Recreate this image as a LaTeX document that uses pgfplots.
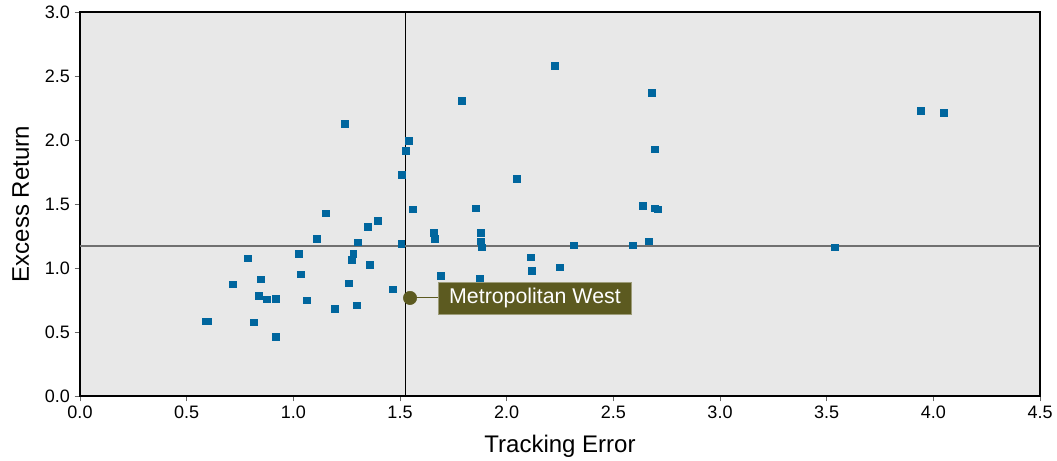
\documentclass[border=0pt]{standalone}
\usepackage{pgfplots}
\pgfplotsset{compat=1.18}
\usetikzlibrary{calc}
\usepackage{fontspec}
\setmainfont{Liberation Sans}
\definecolor{bg}{HTML}{E8E8E8}
\definecolor{pt}{HTML}{00669E}
\definecolor{olive}{HTML}{5C5A20}
\definecolor{meanh}{HTML}{707070}
\begin{document}
\begin{tikzpicture}[x=0.75pt,y=0.75pt]
\begin{axis}[
  name=ax,
  scale only axis,
  width=720pt, height=288pt,
  xmin=0, xmax=4.5, ymin=0, ymax=3.0,
  xtick={0,0.5,...,4.5}, ytick={0,0.5,...,3.0},
  /pgf/number format/.cd, fixed, fixed zerofill, precision=1, assume math mode=true,
  /pgfplots/.cd,
  tick label style={font=\fontsize{13.5}{16}\selectfont, text=black},
  label style={font=\fontsize{18}{21}\selectfont},
  xlabel={Tracking Error}, ylabel={Excess Return},
  xlabel style={yshift=-5.2pt},
  ylabel style={yshift=5pt},
  axis background/.style={fill=bg},
  axis line style={black, line width=0.8pt},
  tick style={color=gray!80!black, line width=0.6pt},
  tick align=outside, major tick length=4pt,
  xtick pos=bottom, ytick pos=left,
  clip=false,
]
\addplot[only marks, color=pt, mark=square*, mark size=2.6pt, mark options={fill=pt, draw=pt, line width=0pt}] coordinates {
(1.244,2.122) (1.542,1.989) (1.530,1.911) (1.508,1.723) (1.563,1.457)
(1.155,1.426) (1.399,1.364) (1.352,1.317) (1.661,1.270) (1.666,1.223)
(1.113,1.223) (1.305,1.199) (1.507,1.184) (0.789,1.074) (1.028,1.106)
(1.282,1.113) (1.277,1.064) (1.361,1.027) (1.694,0.941) (1.038,0.949)
(0.850,0.910) (0.719,0.871) (1.263,0.879) (1.469,0.832) (0.841,0.780)
(0.878,0.754) (0.920,0.761) (1.066,0.746) (1.197,0.683) (1.300,0.707)
(0.592,0.582) (0.602,0.582) (0.817,0.574) (0.920,0.464)
(2.228,2.575) (2.683,2.364) (1.792,2.302) (2.697,1.926) (2.050,1.692)
(1.858,1.465) (2.641,1.488) (2.697,1.465) (2.711,1.457)
(1.881,1.270) (1.881,1.207) (1.886,1.160) (2.317,1.176) (2.594,1.176)
(2.665,1.207) (2.116,1.082) (2.120,0.973) (2.252,1.004) (1.877,0.918)
(3.944,2.224) (4.052,2.208) (3.541,1.160)
};
\draw[black, line width=0.7pt] (axis cs:1.525,0) -- (axis cs:1.525,3.0);
\draw[meanh, line width=1.1pt] (axis cs:0,1.173) -- (axis cs:4.5,1.173);
\addplot[only marks, color=olive, mark=*, mark size=5pt, mark options={fill=olive, draw=olive}] coordinates {(1.547,0.766)};
\draw[olive, line width=0.8pt] (axis cs:1.547,0.766) -- (axis cs:1.68,0.766);
\node[fill=olive, draw=olive!60!white, line width=0.6pt, text=white, anchor=west, inner xsep=7.8pt, minimum height=24pt, font=\fontsize{16}{19}\selectfont] at (axis cs:1.68,0.766) {Metropolitan West};
\end{axis}
\pgfresetboundingbox
\path (ax.south west) ++(-80,-64) rectangle ($(ax.north east)+(17,12)$);
\end{tikzpicture}
\end{document}
